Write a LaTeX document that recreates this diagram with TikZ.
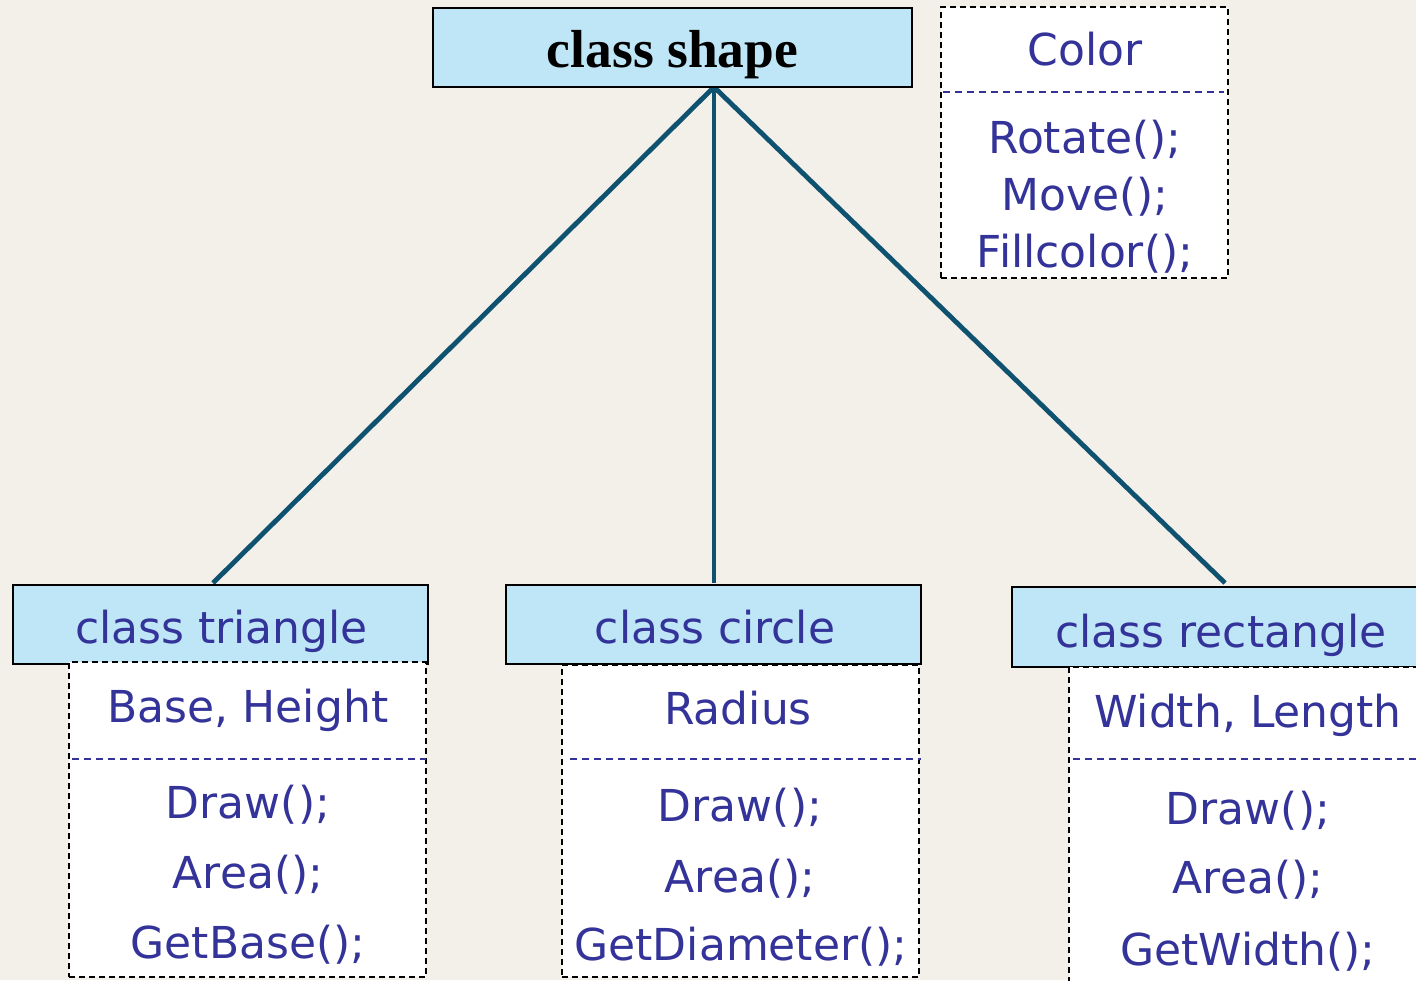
\documentclass[tikz,border=0pt]{standalone}
\usepackage{fontspec}
\newfontfamily\dvfont{DejaVu Sans}
\newfontfamily\tmsfont{Liberation Serif}
\definecolor{bgc}{HTML}{F3EFE9}
\definecolor{hdrfill}{HTML}{BEE6F7}
\definecolor{txtblue}{HTML}{333399}
\definecolor{linkc}{HTML}{0F5270}
\begin{document}
\begin{tikzpicture}[x=1pt,y=-1pt,
  hdr/.style={draw=black, line width=1.8pt, fill=hdrfill, inner sep=0pt},
  memb/.style={draw=black, line width=1.6pt, dash pattern=on 6pt off 4pt, fill=white, inner sep=0pt},
  sep/.style={draw=txtblue, line width=1.3pt, dash pattern=on 7pt off 5pt},
  lbl/.style={anchor=base, inner sep=0pt, text=txtblue, font=\dvfont\fontsize{44}{50}\selectfont},
  link/.style={draw=linkc, line width=4.8pt}]
\useasboundingbox (0,0) rectangle (1416,980);
\fill[bgc] (0,0) rectangle (1416,980);

% connectors
\coordinate (hub) at (714,87);
\coordinate (tTop) at (213,583);
\coordinate (cTop) at (714,583);
\coordinate (rTop) at (1225,583);
\draw[link] (hub) -- (tTop);
\draw[link] (hub) -- (cTop);
\draw[link] (hub) -- (rTop);

% class shape
\node[hdr, minimum width=479, minimum height=79] (shape) at (672.5,47.5) {};
\node[anchor=base, inner sep=0pt, font=\tmsfont\bfseries\fontsize{53.5}{57}\selectfont] (shapeT) at (672.5,67) {class shape};

% Color box
\node[memb, minimum width=287, minimum height=271] (colorB) at (1084.5,142.5) {};
\draw[sep] (943,92) -- (1224,92);
\node[lbl] (colorT) at (1085,65) {Color};
\node[lbl] (rot) at (1085,153) {Rotate();};
\node[lbl] (mov) at (1085,210) {Move();};
\node[lbl] (fill) at (1085,267) {Fillcolor();};

% triangle
\node[hdr, minimum width=415, minimum height=79] (tri) at (220.5,624.5) {};
\node[lbl] (triT) at (221.5,643) {class triangle};
\node[memb, minimum width=357, minimum height=315] (triM) at (247.5,819.5) {};
\draw[sep] (72,759) -- (426,759);
\node[lbl] (triA) at (248,722) {Base, Height};
\node[lbl] (triD) at (248,818) {Draw();};
\node[lbl] (triR) at (248,888) {Area();};
\node[lbl] (triG) at (248,958) {GetBase();};

% circle
\node[hdr, minimum width=415, minimum height=79] (cir) at (713.5,624.5) {};
\node[lbl] (cirT) at (715,643) {class circle};
\node[memb, minimum width=357, minimum height=312] (cirM) at (740.5,821) {};
\draw[sep] (570,759) -- (921,759);
\node[lbl] (cirA) at (738,724) {Radius};
\node[lbl] (cirD) at (740,821) {Draw();};
\node[lbl] (cirR) at (740,892) {Area();};
\node[lbl] (cirG) at (741,960) {GetDiameter();};

% rectangle
\node[hdr, minimum width=420, minimum height=80] (rec) at (1222,627) {};
\node[lbl] (recT) at (1221,647) {class rectangle};
\node[memb, minimum width=360, minimum height=330] (recM) at (1249,832) {};
\draw[sep] (1073,759) -- (1430,759);
\node[lbl] (recA) at (1248,727) {Width, Length};
\node[lbl] (recD) at (1248,824) {Draw();};
\node[lbl] (recR) at (1248,893) {Area();};
\node[lbl] (recG) at (1248,965) {GetWidth();};
\end{tikzpicture}
\end{document}
